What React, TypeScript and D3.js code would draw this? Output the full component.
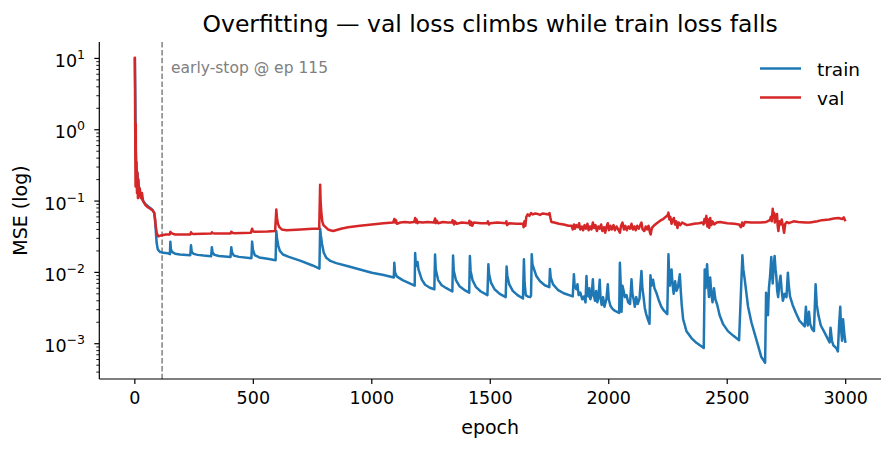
import React from "react";
import * as d3 from "d3";

// [epoch, mse]
const TRAIN_POINTS: [number, number][] = [
  [0, 10.2], [2, 3.0], [4, 0.5], [6, 0.3], [10, 0.25], [15, 0.18], [20, 0.14], [25, 0.115],
  [35, 0.1], [45, 0.09], [55, 0.085], [65, 0.08], [75, 0.075], [82, 0.068], [86, 0.05],
  [88, 0.04], [92, 0.026], [97, 0.021], [105, 0.0195], [120, 0.0188], [140, 0.0185],
  [148, 0.018],
  [150, 0.027], [152, 0.021], [158, 0.0192], [170, 0.0183], [190, 0.0178], [234, 0.0174],
  [237, 0.024], [240, 0.0195], [248, 0.0182], [265, 0.0176], [290, 0.0172], [322, 0.0168],
  [325, 0.0225], [328, 0.019], [336, 0.0176], [355, 0.017], [404, 0.0165],
  [407, 0.0225], [410, 0.019], [418, 0.0172], [440, 0.0165], [492, 0.0158],
  [495, 0.027], [498, 0.021], [506, 0.0175], [525, 0.0162], [560, 0.0155], [594, 0.0148],
  [597, 0.038], [600, 0.03], [605, 0.024], [612, 0.02], [625, 0.0178], [650, 0.0165],
  [700, 0.0145], [750, 0.0125], [779, 0.0113],
  [782, 0.041], [785, 0.033], [790, 0.025], [797, 0.019], [808, 0.016], [825, 0.0145],
  [850, 0.0135], [900, 0.0122], [950, 0.011], [1000, 0.0099], [1050, 0.0092], [1093, 0.0085],
  [1095, 0.0136], [1098, 0.01], [1105, 0.0088], [1130, 0.0078], [1160, 0.007], [1181, 0.0065],
  [1183, 0.0187], [1186, 0.0125], [1190, 0.0123], [1193, 0.014], [1197, 0.011], [1211, 0.0079],
  [1225, 0.0067], [1245, 0.0061], [1264, 0.0058],
  [1267, 0.0178], [1270, 0.011], [1280, 0.0078], [1295, 0.0066], [1315, 0.006], [1340, 0.0054],
  [1343, 0.0172], [1346, 0.0105], [1355, 0.0078], [1370, 0.0064], [1390, 0.0057], [1411, 0.0052],
  [1414, 0.017], [1417, 0.0105], [1425, 0.0078], [1440, 0.0062], [1460, 0.0054], [1488, 0.0048],
  [1492, 0.013], [1495, 0.0095], [1503, 0.0072], [1518, 0.0058], [1540, 0.005], [1565, 0.0045],
  [1569, 0.0121], [1572, 0.009], [1580, 0.0068], [1595, 0.0055], [1615, 0.0048], [1638, 0.0043],
  [1642, 0.0153], [1645, 0.007], [1650, 0.0048], [1658, 0.0046], [1668, 0.0045], [1672, 0.0047],
  [1675, 0.0179], [1678, 0.013], [1685, 0.011], [1695, 0.0088], [1710, 0.0075], [1730, 0.0066],
  [1749, 0.0062],
  [1752, 0.0112], [1755, 0.0085], [1765, 0.0068], [1785, 0.0057], [1810, 0.0051], [1848, 0.0046],
  [1853, 0.0094], [1856, 0.0065], [1863, 0.0058], [1868, 0.0068], [1873, 0.0048], [1880, 0.0052],
  [1888, 0.0042], [1895, 0.0046], [1902, 0.0038],
  [1906, 0.0089], [1909, 0.0055], [1914, 0.0046], [1918, 0.006], [1922, 0.0042], [1928, 0.0048],
  [1933, 0.008], [1936, 0.005], [1942, 0.004], [1947, 0.0055], [1952, 0.0038], [1957, 0.0046],
  [1962, 0.0079], [1965, 0.0045], [1970, 0.0035], [1976, 0.0045], [1982, 0.0033], [1990, 0.0042],
  [1996, 0.0068], [2000, 0.0042], [2007, 0.0034], [2015, 0.0031], [2025, 0.0029], [2035, 0.0028],
  [2044, 0.0027],
  [2047, 0.0136], [2050, 0.0075], [2054, 0.0028], [2058, 0.0065], [2063, 0.0055], [2068, 0.0045],
  [2075, 0.0048], [2082, 0.0038], [2090, 0.0036],
  [2096, 0.008], [2100, 0.005], [2105, 0.0042], [2110, 0.0033], [2116, 0.0045], [2122, 0.0036],
  [2130, 0.0043],
  [2138, 0.0105], [2142, 0.006], [2147, 0.0045], [2152, 0.0032], [2158, 0.0026], [2165, 0.0022],
  [2172, 0.0019],
  [2176, 0.0091], [2180, 0.0065], [2187, 0.0079], [2193, 0.006], [2201, 0.0052], [2212, 0.004],
  [2222, 0.0033], [2233, 0.0029], [2247, 0.0026],
  [2252, 0.0179], [2255, 0.009], [2258, 0.0065], [2262, 0.0095], [2265, 0.011], [2269, 0.007],
  [2274, 0.005], [2280, 0.0075], [2286, 0.0055], [2292, 0.0062],
  [2300, 0.0094], [2304, 0.0055], [2308, 0.0035], [2314, 0.0022], [2328, 0.0015], [2349, 0.0012],
  [2370, 0.00103], [2401, 0.00087],
  [2405, 0.011], [2409, 0.006], [2412, 0.009], [2415, 0.013], [2419, 0.007], [2423, 0.0045],
  [2428, 0.0085], [2433, 0.005], [2438, 0.0038], [2444, 0.006], [2450, 0.0042], [2458, 0.0035],
  [2468, 0.0025], [2482, 0.0019], [2503, 0.0015], [2525, 0.0013], [2550, 0.00112],
  [2564, 0.0174], [2568, 0.011], [2574, 0.0079], [2588, 0.0033], [2602, 0.002], [2623, 0.00114],
  [2644, 0.00065], [2660, 0.00054],
  [2664, 0.0052], [2668, 0.0035], [2672, 0.0025], [2676, 0.006], [2681, 0.009], [2686, 0.0165],
  [2689, 0.01], [2692, 0.007], [2696, 0.012], [2700, 0.017], [2704, 0.011], [2707, 0.009],
  [2711, 0.0055], [2715, 0.0045], [2720, 0.007], [2725, 0.009], [2730, 0.0055], [2735, 0.004],
  [2742, 0.005], [2750, 0.0045],
  [2756, 0.0099], [2760, 0.0065], [2765, 0.0046], [2776, 0.0035], [2790, 0.0027], [2805, 0.0021],
  [2827, 0.00175],
  [2832, 0.0033], [2836, 0.0022], [2840, 0.0018], [2845, 0.0028], [2850, 0.0019], [2858, 0.0016],
  [2866, 0.0015],
  [2873, 0.0068], [2878, 0.0035], [2885, 0.0025], [2895, 0.0018], [2910, 0.00145], [2932, 0.00104],
  [2936, 0.00168], [2942, 0.0011], [2948, 0.00095], [2955, 0.0009], [2962, 0.00085], [2967, 0.00078],
  [2972, 0.0018], [2977, 0.0033], [2981, 0.0015], [2985, 0.0011], [2989, 0.0022], [2994, 0.0014],
  [2999, 0.00103],
];

const VAL_POINTS: [number, number][] = [
  [0, 10.6], [2, 0.5], [3, 0.16], [4, 1.2], [5, 0.18], [7, 0.35], [9, 0.13], [11, 0.25],
  [13, 0.11], [15, 0.2], [18, 0.12], [21, 0.15], [25, 0.11], [30, 0.13], [35, 0.1],
  [45, 0.088], [55, 0.082], [65, 0.078], [75, 0.074], [82, 0.068], [86, 0.055], [88, 0.045],
  [93, 0.035], [99, 0.032], [110, 0.033], [130, 0.034], [147, 0.034],
  [150, 0.037], [153, 0.036], [158, 0.035], [170, 0.034], [234, 0.034], [237, 0.0365],
  [241, 0.035], [248, 0.0345], [322, 0.035], [325, 0.0365], [329, 0.0355], [336, 0.035],
  [404, 0.0352], [407, 0.0372], [411, 0.036], [418, 0.0355], [490, 0.036], [495, 0.041],
  [498, 0.038], [505, 0.037], [560, 0.0375], [592, 0.038],
  [597, 0.076], [600, 0.058], [604, 0.048], [610, 0.043], [620, 0.04], [640, 0.039], [700, 0.04],
  [750, 0.0408], [778, 0.041],
  [782, 0.17], [784, 0.1], [787, 0.07], [791, 0.052], [796, 0.046], [805, 0.043], [815, 0.04],
  [825, 0.039], [837, 0.038], [870, 0.041], [900, 0.043], [950, 0.045], [1000, 0.047],
  [1050, 0.049], [1090, 0.05],
  [1093, 0.053], [1095, 0.056], [1098, 0.05], [1102, 0.054], [1106, 0.048], [1120, 0.05],
  [1140, 0.051], [1160, 0.05], [1178, 0.051],
  [1181, 0.054], [1183, 0.058], [1186, 0.05], [1189, 0.055], [1193, 0.049], [1198, 0.051],
  [1215, 0.05], [1235, 0.051], [1262, 0.05],
  [1265, 0.054], [1267, 0.057], [1270, 0.049], [1274, 0.053], [1280, 0.049], [1300, 0.051],
  [1320, 0.05], [1338, 0.05],
  [1341, 0.054], [1343, 0.053], [1347, 0.047], [1351, 0.052], [1358, 0.048], [1380, 0.05],
  [1410, 0.049],
  [1412, 0.053], [1415, 0.046], [1419, 0.051], [1424, 0.045], [1430, 0.05], [1460, 0.049],
  [1487, 0.049],
  [1490, 0.052], [1494, 0.047], [1500, 0.049], [1530, 0.05], [1565, 0.049], [1568, 0.052],
  [1571, 0.046], [1580, 0.049], [1610, 0.048], [1638, 0.048],
  [1641, 0.043], [1644, 0.052], [1648, 0.045], [1652, 0.06], [1658, 0.065], [1665, 0.062],
  [1672, 0.068], [1680, 0.065], [1690, 0.067], [1700, 0.066], [1710, 0.064], [1720, 0.067],
  [1735, 0.066], [1745, 0.065], [1750, 0.068],
  [1754, 0.058], [1758, 0.051], [1770, 0.05], [1790, 0.048], [1810, 0.047], [1830, 0.045],
  [1843, 0.045],
  [1848, 0.04], [1853, 0.047], [1858, 0.041], [1863, 0.046], [1870, 0.043], [1875, 0.049],
  [1880, 0.04], [1886, 0.044], [1892, 0.039], [1898, 0.046], [1904, 0.041], [1910, 0.048],
  [1915, 0.039], [1921, 0.044], [1927, 0.04], [1933, 0.05], [1938, 0.042], [1944, 0.046],
  [1950, 0.038], [1956, 0.044], [1962, 0.041], [1968, 0.047], [1973, 0.038], [1980, 0.043],
  [1985, 0.036], [1991, 0.044], [1996, 0.049], [2001, 0.039], [2007, 0.045], [2013, 0.04],
  [2020, 0.046], [2026, 0.039], [2033, 0.044], [2040, 0.04], [2047, 0.036], [2052, 0.045],
  [2058, 0.05], [2064, 0.04], [2070, 0.045], [2076, 0.039], [2083, 0.044], [2090, 0.041],
  [2096, 0.048], [2102, 0.04], [2108, 0.044], [2114, 0.039], [2120, 0.045], [2127, 0.041],
  [2133, 0.046], [2138, 0.05], [2143, 0.04], [2150, 0.038], [2156, 0.044], [2162, 0.04],
  [2168, 0.045], [2174, 0.036], [2177, 0.034], [2182, 0.042], [2190, 0.045], [2200, 0.048],
  [2210, 0.051], [2220, 0.054], [2230, 0.056], [2240, 0.06], [2247, 0.062], [2252, 0.069],
  [2256, 0.055], [2260, 0.06], [2265, 0.048], [2270, 0.054], [2275, 0.058], [2280, 0.047],
  [2285, 0.052], [2290, 0.042], [2295, 0.05], [2302, 0.046], [2310, 0.05], [2320, 0.048],
  [2330, 0.046], [2345, 0.047], [2360, 0.048], [2380, 0.049], [2395, 0.05],
  [2400, 0.047], [2404, 0.056], [2408, 0.05], [2412, 0.062], [2416, 0.044], [2420, 0.055],
  [2424, 0.042], [2428, 0.058], [2433, 0.046], [2438, 0.052], [2445, 0.047], [2455, 0.05],
  [2470, 0.051], [2500, 0.049], [2530, 0.048], [2550, 0.047], [2558, 0.043], [2563, 0.05],
  [2568, 0.045], [2575, 0.051], [2600, 0.05], [2640, 0.05], [2665, 0.051], [2680, 0.054],
  [2684, 0.06], [2688, 0.052], [2692, 0.078], [2695, 0.06], [2698, 0.068], [2701, 0.05],
  [2705, 0.062], [2710, 0.066], [2713, 0.045], [2716, 0.038], [2720, 0.052], [2725, 0.047],
  [2730, 0.055], [2735, 0.045], [2740, 0.036], [2745, 0.048], [2752, 0.051], [2760, 0.049],
  [2780, 0.052], [2800, 0.051], [2830, 0.05], [2850, 0.05], [2880, 0.052], [2900, 0.054],
  [2930, 0.055], [2950, 0.057], [2970, 0.058], [2985, 0.056], [2992, 0.059], [2999, 0.052],
];

const X_TICKS = [0, 500, 1000, 1500, 2000, 2500, 3000];
const Y_EXPONENTS = [-3, -2, -1, 0, 1];
const EARLY_STOP = 115;

const FONT = "DejaVu Sans, sans-serif";
const BLUE = "#1f77b4";
const RED = "#d62728";

const App = () => {
  const width = 893;
  const height = 450;
  const ax = { left: 99.3, right: 881, top: 42, bottom: 379 };

  const x = d3.scaleLinear().domain([-150, 3149]).range([ax.left, ax.right]);
  const y = d3.scaleLog().domain([3.2e-4, 17]).range([ax.bottom, ax.top]);

  const line = d3
    .line<[number, number]>()
    .x((d) => x(d[0]))
    .y((d) => y(d[1]));

  // minor ticks 2..9 within each decade
  const minor: number[] = [];
  for (let e = -4; e <= 1; e++) {
    for (let m = 2; m <= 9; m++) {
      const v = m * Math.pow(10, e);
      if (v >= 3.2e-4 && v <= 17) minor.push(v);
    }
  }

  return (
    <svg
      width={width}
      height={height}
      style={{ position: "absolute", left: 0, top: 0, background: "#fff" }}
      fontFamily={FONT}
    >
      <defs>
        <clipPath id="plot-area">
          <rect x={ax.left} y={ax.top} width={ax.right - ax.left} height={ax.bottom - ax.top} />
        </clipPath>
      </defs>

      <text x={(ax.left + ax.right) / 2} y={32} textAnchor="middle" fontSize={23.5}>
        Overfitting — val loss climbs while train loss falls
      </text>

      <g clipPath="url(#plot-area)">
        <line
          x1={x(EARLY_STOP)}
          x2={x(EARLY_STOP)}
          y1={ax.top}
          y2={ax.bottom}
          stroke="#808080"
          strokeWidth={1.5}
          strokeDasharray="5.5,2.4"
        />
        <path d={line(TRAIN_POINTS) || ""} fill="none" stroke={BLUE} strokeWidth={2.5} strokeLinejoin="round" />
        <path d={line(VAL_POINTS) || ""} fill="none" stroke={RED} strokeWidth={2.5} strokeLinejoin="round" />
      </g>

      <text x={x(EARLY_STOP) + 9} y={73} fontSize={15.5} fill="#808080">
        early-stop @ ep 115
      </text>

      {/* spines */}
      <line x1={ax.left} x2={ax.left} y1={ax.top} y2={ax.bottom} stroke="#000" strokeWidth={1.2} />
      <line x1={ax.left} x2={ax.right} y1={ax.bottom} y2={ax.bottom} stroke="#000" strokeWidth={1.2} />

      {/* x axis */}
      {X_TICKS.map((t) => (
        <g key={t}>
          <line x1={x(t)} x2={x(t)} y1={ax.bottom} y2={ax.bottom + 5} stroke="#000" strokeWidth={1.2} />
          <text x={x(t)} y={403.5} textAnchor="middle" fontSize={17.5}>
            {t}
          </text>
        </g>
      ))}
      <text x={(ax.left + ax.right) / 2} y={434} textAnchor="middle" fontSize={19}>
        epoch
      </text>

      {/* y axis */}
      {minor.map((v) => (
        <line key={v} x1={ax.left - 3} x2={ax.left} y1={y(v)} y2={y(v)} stroke="#000" strokeWidth={0.9} />
      ))}
      {Y_EXPONENTS.map((e) => (
        <g key={e}>
          <line
            x1={ax.left - 5}
            x2={ax.left}
            y1={y(Math.pow(10, e))}
            y2={y(Math.pow(10, e))}
            stroke="#000"
            strokeWidth={1.2}
          />
          <text x={85} y={y(Math.pow(10, e)) + 8.5} textAnchor="end" fontSize={17.5}>
            <tspan>10</tspan>
            <tspan dy={-8} fontSize={12.5}>
              {e < 0 ? `\u2212${-e}` : `${e}`}
            </tspan>
          </text>
        </g>
      ))}
      <text
        transform={`translate(27, ${(ax.top + ax.bottom) / 2}) rotate(-90)`}
        textAnchor="middle"
        fontSize={19}
      >
        MSE (log)
      </text>

      {/* legend */}
      <line x1={760} x2={801} y1={68.5} y2={68.5} stroke={BLUE} strokeWidth={2.5} />
      <text x={817} y={76} fontSize={18.5}>
        train
      </text>
      <line x1={760} x2={801} y1={97.5} y2={97.5} stroke={RED} strokeWidth={2.5} />
      <text x={817} y={105} fontSize={18.5}>
        val
      </text>
    </svg>
  );
};

export default App;
